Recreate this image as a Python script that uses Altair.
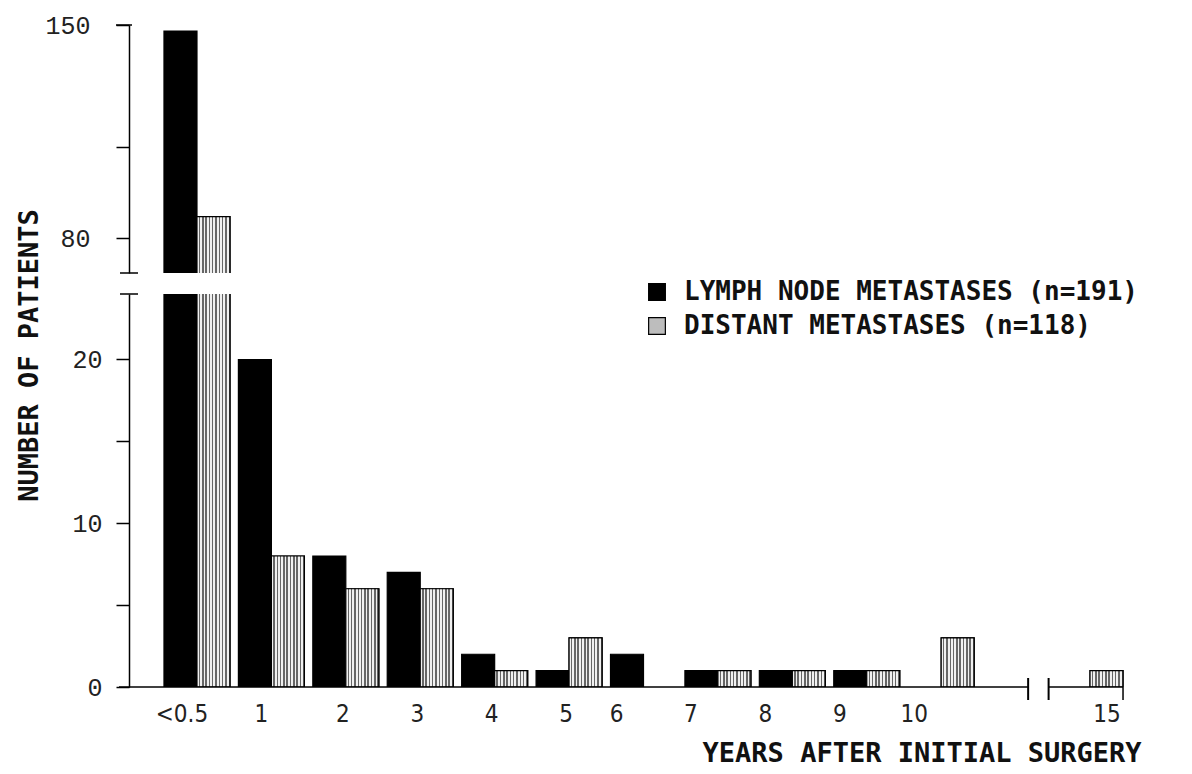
import altair as alt
import pandas as pd

categories = ["<0.5", "1", "2", "3", "4", "5", "6", "7", "8", "9", "10", "15"]
lymph = [148, 20, 8, 7, 2, 1, 2, 1, 1, 1, 0, 0]
distant = [87, 8, 6, 6, 1, 3, 0, 1, 1, 1, 3, 1]
series = ["LYMPH NODE METASTASES (n=191)", "DISTANT METASTASES (n=118)"]
x_domain = categories[:11] + ["gap"] + categories[11:]
upper_ticks = [80, 110, 150]
upper_labels = [80, 150]
lower_ticks = [0, 5, 10, 15, 20]
lower_labels = [0, 10, 20]
upper_domain = [68.5, 150]
lower_domain = [0, 24]

rows = []
for c, a, b in zip(categories, lymph, distant):
    rows.append({"year": c, "series": series[0], "n": a})
    rows.append({"year": c, "series": series[1], "n": b})
df = pd.DataFrame(rows)
df = df[df.n > 0]
df_dist = df[df.series == series[1]]

W = 1029
H_UP = 248
H_LO = 393

MONO = "DejaVu Sans Mono"
TICKF = "Liberation Mono"
NARROW = "Liberation Sans Narrow, DejaVu Sans Condensed, Liberation Sans"

xscale = alt.Scale(domain=x_domain, paddingInner=0.113, paddingOuter=0.47)
offscale = alt.Scale(domain=series, paddingInner=0, paddingOuter=0)
colscale = alt.Scale(domain=series, range=["#000000", "#bdbdbd"])

stops = []
n_str = 10
for i in range(n_str):
    a = i / n_str
    m = (i + 0.55) / n_str
    b = (i + 1) / n_str
    stops += [
        alt.GradientStop(color="#f0f0f0", offset=a),
        alt.GradientStop(color="#f0f0f0", offset=m),
        alt.GradientStop(color="#666666", offset=m),
        alt.GradientStop(color="#666666", offset=b),
    ]
stripes = alt.LinearGradient(gradient="linear", stops=stops, x1=0, x2=1, y1=0, y2=0)

up_axis = alt.Axis(
    values=upper_ticks, grid=False, tickSize=13, domainWidth=1.5, tickWidth=1.5,
    labelPadding=26,
    labelExpr="indexof([%s], datum.value) >= 0 ? datum.label : ''" % ",".join(str(v) for v in upper_labels),
)
lo_axis = alt.Axis(
    values=lower_ticks, grid=False, tickSize=13, domainWidth=1.5, tickWidth=1.5,
    labelPadding=14,
    labelExpr="indexof([%s], datum.value) >= 0 ? datum.label : ''" % ",".join(str(v) for v in lower_labels),
    title="NUMBER OF PATIENTS", titleX=-100, titleY=61, titleAngle=270,
    titleAlign="center", titleBaseline="middle",
)
lo_xaxis = alt.Axis(
    domain=False, ticks=False, labelAngle=0, labelPadding=15,
    labelFont=NARROW, labelFontSize=24,
    labelExpr="datum.value == 'gap' ? '' : datum.value",
    labelOffset={
        "condition": [
            {"test": "datum.value == '<0.5'", "value": -15},
            {"test": "datum.value == '1'", "value": -10},
            {"test": "indexof(['6','7','8','9','10'], datum.value) >= 0", "value": -27},
            {"test": "datum.value == '15'", "value": 17},
        ],
        "value": -3,
    },
    title="YEARS AFTER INITIAL SURGERY", titleX=1012, titleY=74,
    titleAlign="right", titleBaseline="alphabetic",
)
legend = alt.Legend(
    orient="none", legendX=515, legendY=254, title=None, symbolType="square",
    symbolSize=280, symbolStrokeColor="black", symbolStrokeWidth=1.2,
    labelFont=MONO, labelFontWeight="bold", labelFontSize=26, labelColor="#111",
    labelOffset=14, rowPadding=8, labelLimit=800,
)


def bars(domain, yaxis, xaxis):
    ysc = alt.Scale(domain=domain, nice=False, zero=False)
    base = alt.Chart(df).mark_bar(clip=True, stroke="black", strokeWidth=1.2).encode(
        x=alt.X("year:N", scale=xscale, axis=xaxis, title=None),
        xOffset=alt.XOffset("series:N", scale=offscale),
        y=alt.Y("n:Q", scale=ysc, axis=yaxis, title=None),
        color=alt.Color("series:N", scale=colscale, legend=legend),
    )
    over = alt.Chart(df_dist).mark_bar(clip=True, fill=stripes, stroke="black", strokeWidth=1.2).encode(
        x=alt.X("year:N", scale=xscale, axis=xaxis, title=None),
        xOffset=alt.XOffset("series:N", scale=offscale),
        y=alt.Y("n:Q", scale=ysc, axis=yaxis, title=None),
    )
    return base, over


ub, uo = bars(upper_domain, up_axis, None)
lb, lo = bars(lower_domain, lo_axis, lo_xaxis)

rule = dict(color="black", strokeWidth=1.5)

cap_up = alt.Chart(pd.DataFrame({"v": [upper_domain[0]]})).mark_rule(**rule).encode(
    y=alt.Y("v:Q", axis=up_axis, title=None), x=alt.value(-9), x2=alt.value(9))
top_up = alt.Chart(pd.DataFrame({"v": [upper_domain[1]]})).mark_rule(**rule).encode(
    y=alt.Y("v:Q", axis=up_axis, title=None), x=alt.value(-13), x2=alt.value(3))
cap_lo = alt.Chart(pd.DataFrame({"v": [lower_domain[1]]})).mark_rule(**rule).encode(
    y=alt.Y("v:Q", axis=lo_axis, title=None), x=alt.value(-9), x2=alt.value(9))

gapdf = pd.DataFrame({"year": ["gap"], "year2": ["15"], "v": [0]})
enddf = pd.DataFrame({"year": ["15"], "v": [0]})
seg1 = alt.Chart(gapdf).mark_rule(**rule).encode(
    x=alt.X("year:N", bandPosition=0.69, axis=lo_xaxis, title=None), x2=alt.value(-10),
    y=alt.Y("v:Q", axis=lo_axis, title=None))
seg2 = alt.Chart(gapdf).mark_rule(**rule).encode(
    x=alt.X("year:N", bandPosition=1.0, axis=lo_xaxis, title=None),
    x2=alt.X2("year2:N", bandPosition=1.0),
    y=alt.Y("v:Q", axis=lo_axis, title=None))
brk1 = alt.Chart(gapdf).mark_rule(color="black", strokeWidth=2).encode(
    x=alt.X("year:N", bandPosition=0.69, axis=lo_xaxis, title=None),
    y=alt.value(H_LO - 9), y2=alt.value(H_LO + 13))
brk2 = alt.Chart(gapdf).mark_rule(color="black", strokeWidth=2).encode(
    x=alt.X("year:N", bandPosition=1.0, axis=lo_xaxis, title=None),
    y=alt.value(H_LO - 9), y2=alt.value(H_LO + 13))
endt = alt.Chart(enddf).mark_rule(**rule).encode(
    x=alt.X("year:N", bandPosition=1.0, axis=lo_xaxis, title=None),
    y=alt.value(H_LO), y2=alt.value(H_LO + 13))

upper = alt.layer(ub, uo, cap_up, top_up).properties(width=W, height=H_UP)
lower = alt.layer(lb, lo, cap_lo, seg1, seg2, brk1, brk2, endt).properties(width=W, height=H_LO)

chart = alt.vconcat(upper, lower, spacing=21, bounds="flush").properties(
    padding={"left": 7, "top": 5, "right": 5, "bottom": 0}
).configure_view(stroke=None).configure_axis(
    labelFont=TICKF, labelFontSize=25, labelColor="#222",
    titleFont=MONO, titleFontWeight="bold", titleFontSize=27, titleColor="#111",
    domainColor="black", tickColor="black",
)

chart.save("out.html", embed_options={"renderer": "svg", "actions": False})
